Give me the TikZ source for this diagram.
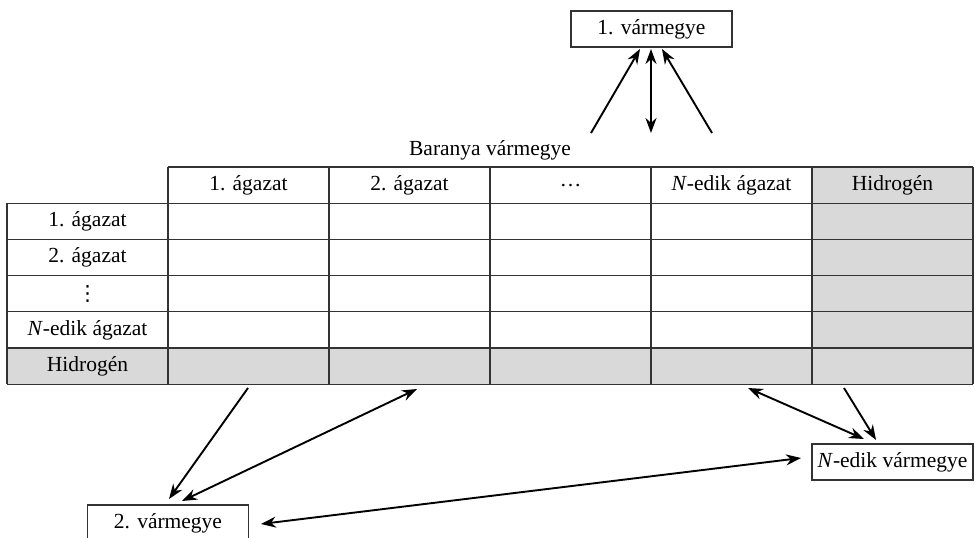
\documentclass[tikz,border=0pt]{standalone}
\usepackage{fontspec}
\setmainfont{Liberation Serif}
\newfontfamily\dejavusans{DejaVu Sans}
\usetikzlibrary{arrows.meta}
\begin{document}
\begin{tikzpicture}[x=1pt,y=-1pt,
  font=\fontsize{21.5}{24}\selectfont,
  gridline/.style={draw=black!80,line width=1.3pt},
  graycell/.style={fill=black!15},
  cell/.style={inner sep=0pt,anchor=center},
  county/.style={draw=black!80,line width=1.3pt,minimum width=161pt,minimum height=36pt,inner sep=0pt,fill=white},
  arr/.style={line width=1.9pt,-{Stealth[length=15pt,width=11pt]}},
  darr/.style={line width=1.9pt,{Stealth[length=15pt,width=11pt]}-{Stealth[length=15pt,width=11pt]}}]
\useasboundingbox (0,0) rectangle (975,538);
% gray fills
\fill[graycell] (812,167) rectangle (973,384.2);
\fill[graycell] (7,348) rectangle (973,384.2);
% horizontal lines
\draw[gridline] (168,167) -- (973,167);
\foreach \y in {203.2,239.4,275.6,311.8,348,384.2}
  \draw[gridline] (7,\y) -- (973,\y);
% vertical lines
\draw[gridline] (7,203.2) -- (7,384.2);
\foreach \x in {168,329,490,651,812,973}
  \draw[gridline] (\x,167) -- (\x,384.2);
% header
\node[cell] (h1) at (248.5,185.1) {1. ágazat};
\node[cell] (h2) at (409.5,185.1) {2. ágazat};
\node[cell] (h3) at (570.5,186) {…};
\node[cell] (h4) at (731.5,185.1) {\textit{N}-edik ágazat};
\node[cell] (h5) at (892.5,185.1) {Hidrogén};
% row labels
\node[cell] (r1) at (87.5,221.3) {1. ágazat};
\node[cell] (r2) at (87.5,257.5) {2. ágazat};
\node[cell] (r3) at (87.5,293.7) {\dejavusans\fontsize{21}{24}\selectfont ⋮};
\node[cell] (r4) at (87.5,329.9) {\textit{N}-edik ágazat};
\node[cell] (r5) at (87.5,366.1) {Hidrogén};
% title
\node[cell] (title) at (490,150) {Baranya vármegye};
% counties
\node[county] (v1) at (651.5,29) {1. vármegye};
\node[county] (v2) at (168,523) {2. vármegye};
\node[county] (vn) at (892.5,462) {\textit{N}-edik vármegye};
% free ends
\coordinate (a1s) at (591,133);
\coordinate (a1e) at (640,49);
\coordinate (a2s) at (651,133);
\coordinate (a2e) at (651,49);
\coordinate (a3s) at (712,133);
\coordinate (a3e) at (662,49);
\coordinate (b1s) at (248,388);
\coordinate (b1e) at (169,499);
\coordinate (b2s) at (417,389);
\coordinate (b2e) at (182,501);
\coordinate (cs) at (261,524);
\coordinate (ce) at (801,458);
\coordinate (d1s) at (748,388);
\coordinate (d1e) at (864,439);
\coordinate (d2s) at (844,388);
\coordinate (d2e) at (876,440);
\draw[arr] (a1s) -- (a1e);
\draw[darr] (a2s) -- (a2e);
\draw[arr] (a3s) -- (a3e);
\draw[arr] (b1s) -- (b1e);
\draw[darr] (b2s) -- (b2e);
\draw[darr] (cs) -- (ce);
\draw[darr] (d1s) -- (d1e);
\draw[arr] (d2s) -- (d2e);
\end{tikzpicture}
\end{document}
